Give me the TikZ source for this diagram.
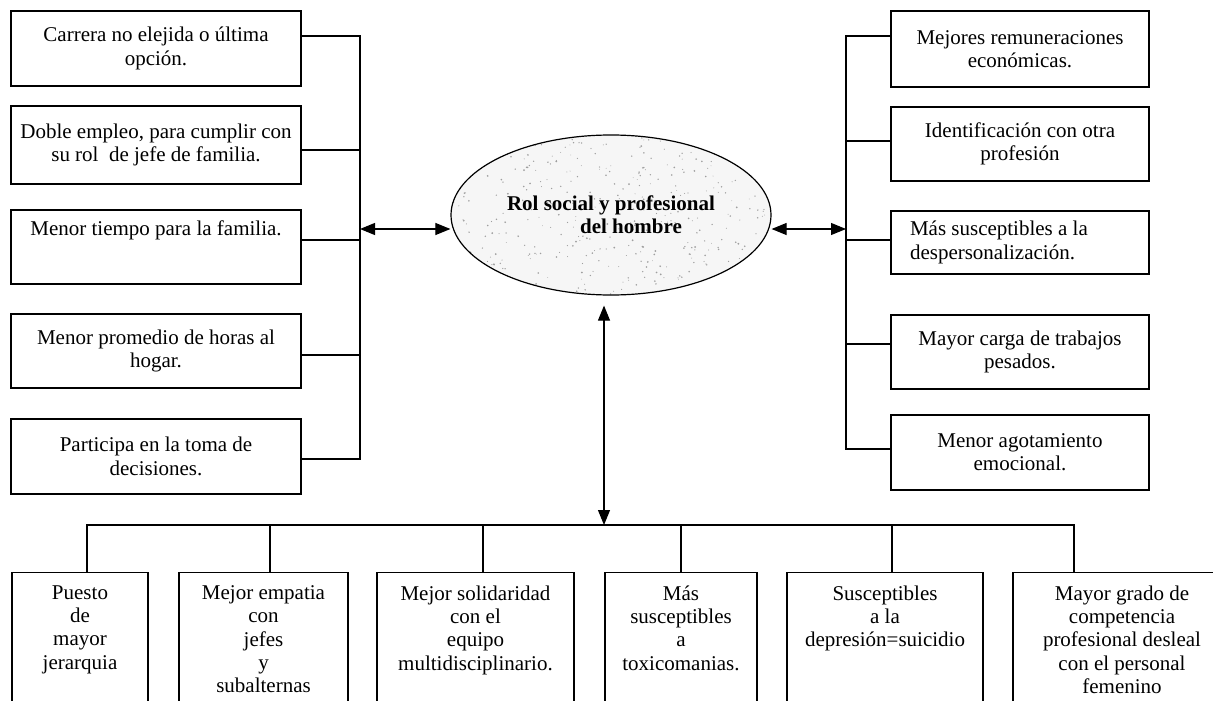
\documentclass[tikz,border=0pt]{standalone}
\usepackage{fontspec}
\setmainfont{Liberation Serif}
\usetikzlibrary{arrows.meta,shapes.geometric}

\newcommand{\colabajo}{\\[80pt]\mbox{}}

\tikzset{
  lbox/.style={draw, line width=1.2pt, minimum width=290pt, inner sep=6pt, align=center, font=\fontsize{21}{23.3}\selectfont},
  rbox/.style={lbox, minimum width=258pt},
  dbox/.style={draw, line width=1.2pt, anchor=north, inner xsep=4pt, inner ysep=13pt, align=center, font=\fontsize{21}{23.3}\selectfont},
  hub/.style={ellipse, draw, line width=1.2pt, minimum width=320pt, minimum height=160pt, align=center, font=\bfseries\fontsize{21}{23}\selectfont},
  link/.style={line width=1.1pt},
  twoway/.style={line width=1.1pt, {Triangle[length=15pt,width=12pt]}-{Triangle[length=15pt,width=12pt]}},
}

\begin{document}
\begin{tikzpicture}[x=1pt,y=-1pt]
\useasboundingbox (0,0) rectangle (1213,701);
\clip (0,0) rectangle (1213,701);

% fondo punteado del centro
\begin{scope}
  \clip (611,215) ellipse (160 and 80);
  \fill[gray!7] (611,215) ellipse (160 and 80);
  \pgfmathsetseed{11}
  \foreach \i in {1,...,420}
    \fill[gray!75] (611+160*rand,215+80*rand) circle (0.4+0.6*rnd);
\end{scope}

% centro
\node[hub] (hub) at (611,215) {Rol social y profesional\\\hspace*{40pt}del hombre};

% lado izquierdo
\node[lbox, minimum height=75pt] (L1) at (156,48.5) {Carrera no elejida o última\\opción.};
\node[lbox, minimum height=78pt] (L2) at (156,145) {Doble empleo, para cumplir con\\su rol\ \ de jefe de familia.};
\node[lbox, minimum height=74pt] (L3) at (156,247) {Menor tiempo para la familia.\\[14pt]\mbox{}};
\node[lbox, minimum height=74pt] (L4) at (156,351) {Menor promedio de horas al\\hogar.};
\node[lbox, minimum height=75pt] (L5) at (156,456.5) {Participa en la toma de\\decisiones.};
\coordinate (lbus) at (360,229);
\foreach \b/\d in {L1/12.5,L2/-5,L3/7,L4/-4,L5/-2.5}
  \draw[link] ([yshift=\d pt]\b.east) -| (lbus);
\draw[twoway] (lbus) -- (hub.west |- lbus);

% lado derecho
\node[rbox, minimum height=76pt] (R1) at (1020,49) {Mejores remuneraciones\\económicas.};
\node[rbox, minimum height=74pt] (R2) at (1020,144) {Identificación con otra\\profesión};
\node[rbox, minimum height=63pt, align=flush left, text width=220pt, inner xsep=19pt] (R3) at (1020,242.5) {Más susceptibles a la\\despersonalización.};
\node[rbox, minimum height=74pt] (R4) at (1020,352) {Mayor carga de trabajos\\pesados.};
\node[rbox, minimum height=75pt] (R5) at (1020,452.5) {Menor agotamiento\\emocional.};
\coordinate (rbus) at (846,229);
\foreach \b/\d in {R1/13,R2/3,R3/2.5,R4/8,R5/3.5}
  \draw[link] ([yshift=\d pt]\b.west) -| (rbus);
\draw[twoway] (hub.east |- rbus) -- (rbus);

% abajo
\coordinate (dbus) at (604,525);
\path (hub.south -| dbus) ++(0,10) coordinate (dtop);
\draw[twoway] (dtop) -- (dbus);
\node[dbox, minimum width=136pt] (B1) at (80,572) {Puesto\\de\\mayor\\jerarquia\colabajo};
\node[dbox, minimum width=169pt] (B2) at (263.5,572) {Mejor empatia\\con\\jefes\\y\\subalternas\colabajo};
\node[dbox, minimum width=197pt] (B3) at (475.5,572) {Mejor solidaridad\\con el\\equipo\\multidisciplinario.\colabajo};
\node[dbox, minimum width=152pt] (B4) at (681,572) {Más\\susceptibles\\a\\toxicomanias.\colabajo};
\node[dbox, minimum width=196pt] (B5) at (885,572) {Susceptibles\\a la\\depresión=suicidio\colabajo};
\node[dbox, minimum width=218pt] (B6) at (1122,572) {Mayor grado de\\competencia\\profesional desleal\\con el personal\\femenino\colabajo};
\foreach \b/\d in {B1/7,B2/6.5,B3/7.5,B4/0,B5/7,B6/-48}
  \draw[link] ([xshift=\d pt]\b.north) |- (dbus);
\end{tikzpicture}
\end{document}
